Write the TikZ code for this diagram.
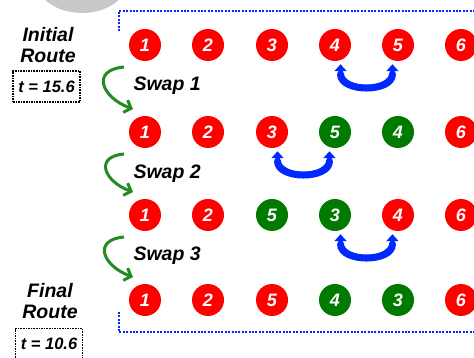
\documentclass[tikz,border=0pt]{standalone}
\usepackage{fontspec}
\setmainfont{Liberation Sans}
\usetikzlibrary{arrows.meta}

\definecolor{dotred}{RGB}{255,0,0}
\definecolor{dotgreen}{RGB}{0,122,0}
\definecolor{swapblue}{RGB}{0,40,255}
\definecolor{turngreen}{RGB}{34,139,34}
\definecolor{blobgray}{RGB}{200,200,200}

\begin{document}
\begin{tikzpicture}[x=1pt, y=1pt,
	city/.style={circle, fill=dotred, minimum size=32pt, inner sep=0pt, text=white,
		font=\fontsize{18}{18}\selectfont\bfseries\itshape},
	moved/.style={city, fill=dotgreen},
	tag/.style={font=\fontsize{19.5}{21}\selectfont\bfseries\itshape, align=center},
	timebox/.style={draw, densely dotted, line width=1.6pt, minimum width=67pt, minimum height=31pt,
		font=\fontsize{16.5}{16.5}\selectfont\bfseries\itshape},
	frame/.style={swapblue, line width=2pt, dash pattern=on 2pt off 1.4pt},
	swaparc/.style={swapblue, line width=4.5pt, {Triangle[width=12pt,length=7pt]}-{Triangle[width=12pt,length=7pt]},
		shorten <=4pt, shorten >=4pt},
	swapbody/.style={swapblue, line width=7pt, line cap=round, shorten <=14pt, shorten >=14pt},
	turn/.style={turngreen, line width=3pt, -{Straight Barb[length=6pt,width=13pt]}}]
		\useasboundingbox (0,-358) rectangle (474,0);
		\clip (0,-358) rectangle (474,0);
		\fill[blobgray] (82,20) ellipse [x radius=46, y radius=33];

		% dotted corners of the route frame
		\draw[frame] (119,-31) -- (119,-11) -- (474,-11);
		\draw[frame] (119,-312) -- (119,-332) -- (474,-332);

		% labels on the left
		\draw (48,-45) node [tag] (init) {Initial\\Route};
		\draw (46.5,-86.5) node [timebox] (tinit) {t = 15.6};
		\draw (50,-301) node [tag] (final) {Final\\Route};
		\draw (49,-344) node [timebox] (tfinal) {t = 10.6};

		% initial route
		\draw (145,-45) node [city] (r1-1) {1};
		\draw (208,-45) node [city] (r1-2) {2};
		\draw (272,-45) node [city] (r1-3) {3};
		\draw (335,-45) node [city] (r1-4) {4};
		\draw (398,-45) node [city] (r1-5) {5};
		\draw (461,-45) node [city] (r1-6) {6};

		% after swap 1
		\draw (145,-132) node [city] (r2-1) {1};
		\draw (208,-132) node [city] (r2-2) {2};
		\draw (272,-132) node [city] (r2-3) {3};
		\draw (335,-132) node [moved] (r2-4) {5};
		\draw (398,-132) node [moved] (r2-5) {4};
		\draw (461,-132) node [city] (r2-6) {6};

		% after swap 2
		\draw (145,-215) node [city] (r3-1) {1};
		\draw (208,-215) node [city] (r3-2) {2};
		\draw (272,-215) node [moved] (r3-3) {5};
		\draw (335,-215) node [moved] (r3-4) {3};
		\draw (398,-215) node [city] (r3-5) {4};
		\draw (461,-215) node [city] (r3-6) {6};

		% final route
		\draw (145,-300) node [city] (r4-1) {1};
		\draw (208,-300) node [city] (r4-2) {2};
		\draw (272,-300) node [city] (r4-3) {5};
		\draw (335,-300) node [moved] (r4-4) {4};
		\draw (398,-300) node [moved] (r4-5) {3};
		\draw (461,-300) node [city] (r4-6) {6};

		% swap steps
		\draw (130,-91) node [tag, anchor=base west] (swap1) {Swap 1};
		\draw (130,-179) node [tag, anchor=base west] (swap2) {Swap 2};
		\draw (130,-261) node [tag, anchor=base west] (swap3) {Swap 3};
		\coordinate (t1a) at (124,-67);
		\coordinate (t1b) at (133,-109);
		\coordinate (t2a) at (124,-154);
		\coordinate (t2b) at (133,-192);
		\coordinate (t3a) at (124,-237);
		\coordinate (t3b) at (133,-277);
		\path[turn]
			(t1a) edge [out=185, in=160, looseness=2] (t1b)
			(t2a) edge [out=185, in=160, looseness=2] (t2b)
			(t3a) edge [out=185, in=160, looseness=2] (t3b);

		% exchanged pairs
		\path[swaparc]
			(r1-4.-70) edge [out=-90, in=-90, looseness=1.6] (r1-5.-110)
			(r2-3.-70) edge [out=-90, in=-90, looseness=1.6] (r2-4.-110)
			(r3-4.-70) edge [out=-90, in=-90, looseness=1.6] (r3-5.-110);
		\path[swapbody]
			(r1-4.-70) edge [out=-90, in=-90, looseness=1.6] (r1-5.-110)
			(r2-3.-70) edge [out=-90, in=-90, looseness=1.6] (r2-4.-110)
			(r3-4.-70) edge [out=-90, in=-90, looseness=1.6] (r3-5.-110);
	\end{tikzpicture}
\end{document}
